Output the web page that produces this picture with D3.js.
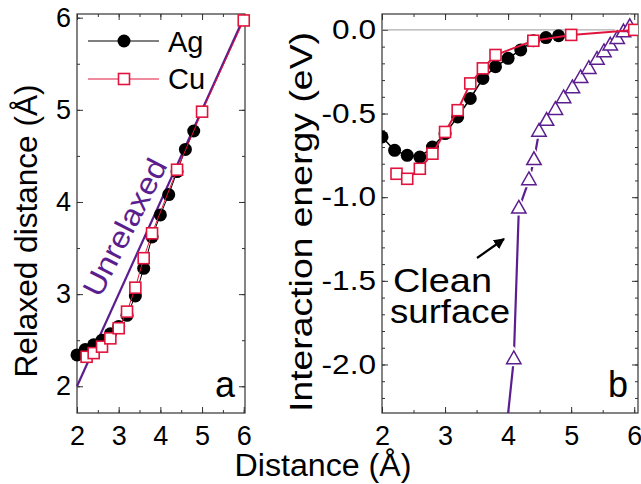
<!DOCTYPE html>
<html>
<head>
<meta charset="utf-8">
<script src="https://cdn.jsdelivr.net/npm/d3@7"></script>
<style>
  body { margin: 0; background: #fff; }
  svg { display: block; font-family: "Liberation Sans", Arial, Helvetica, sans-serif; }
</style>
</head>
<body>
<div id="chart"></div>
<script>
// data
var agDist = [2.0, 2.2, 2.4, 2.6, 2.8, 3.0, 3.2, 3.4, 3.6, 3.8, 4.0, 4.2, 4.4, 4.6, 4.8];
var agRelaxed = [2.34, 2.40, 2.45, 2.50, 2.57, 2.65, 2.77, 2.98, 3.28, 3.62, 3.86, 4.08, 4.33, 4.57, 4.77];
var agEnergy = [-0.64, -0.72, -0.75, -0.76, -0.70, -0.62, -0.52, -0.41, -0.29, -0.22, -0.17, -0.12, -0.065, -0.046, -0.035];

var cuDist = [2.23, 2.4, 2.6, 2.8, 3.0, 3.2, 3.4, 3.6, 3.8, 4.4, 5.0, 6.0];
var cuRelaxed = [2.32, 2.36, 2.43, 2.52, 2.63, 2.81, 3.07, 3.39, 3.66, 4.35, 4.98, 5.97];
var cuEnergy = [-0.86, -0.89, -0.83, -0.74, -0.61, -0.48, -0.32, -0.23, -0.15, -0.065, -0.03, 0.0];

var unrelaxedDist = [2, 6];

var cleanDist = [3.9, 4.09, 4.17, 4.33, 4.41, 4.49, 4.61, 4.75, 4.88, 5.02, 5.15, 5.28, 5.41, 5.52, 5.62, 5.73, 5.83, 5.93];
var cleanEnergy = [-2.65, -1.97, -1.07, -0.90, -0.78, -0.61, -0.545, -0.48, -0.41, -0.35, -0.29, -0.235, -0.18, -0.135, -0.095, -0.056, -0.016, 0.015];

var xTicks = [2, 3, 4, 5, 6];
var leftYTicks = [2, 3, 4, 5, 6];
var rightYTicks = [0, -0.5, -1.0, -1.5, -2.0];

var PURPLE = "#5b1e8e";
var RED = "#e0143c";
var FRAME = "#333";

var W = 641, H = 484;
var svg = d3.select("#chart").append("svg").attr("width", W).attr("height", H);

// panel a
var xA = d3.scaleLinear().domain([2, 6.03]).range([77, 245]);
var yA = d3.scaleLinear().domain([1.71, 6.04]).range([413, 14]);
// panel b
var xB = d3.scaleLinear().domain([2, 6.06]).range([382, 638]);
var yB = d3.scaleLinear().domain([-2.29, 0.095]).range([413, 14]);

function drawFrame(x, y, xMinor, yMinor, yFmt, yTickVals) {
  var x0 = x.range()[0], x1 = x.range()[1], y0 = y.range()[0], y1 = y.range()[1];
  var g = svg.append("g");

  // minor ticks, all four sides
  g.append("g").attr("transform", "translate(0," + y0 + ")")
    .call(d3.axisBottom(x).tickValues(xMinor).tickSize(-3).tickSizeOuter(0).tickFormat(""));
  g.append("g").attr("transform", "translate(0," + y1 + ")")
    .call(d3.axisTop(x).tickValues(xMinor).tickSize(-3).tickSizeOuter(0).tickFormat(""));
  g.append("g").attr("transform", "translate(" + x0 + ",0)")
    .call(d3.axisLeft(y).tickValues(yMinor).tickSize(-3).tickSizeOuter(0).tickFormat(""));
  g.append("g").attr("transform", "translate(" + x1 + ",0)")
    .call(d3.axisRight(y).tickValues(yMinor).tickSize(-3).tickSizeOuter(0).tickFormat(""));

  // major ticks
  var bottom = g.append("g").attr("class", "x-axis").attr("transform", "translate(0," + y0 + ")")
    .call(d3.axisBottom(x).tickValues(xTicks).tickSize(-6).tickSizeOuter(0).tickPadding(10).tickFormat(d3.format("d")));
  g.append("g").attr("transform", "translate(0," + y1 + ")")
    .call(d3.axisTop(x).tickValues(xTicks).tickSize(-6).tickSizeOuter(0).tickFormat(""));
  var left = g.append("g").attr("class", "y-axis").attr("transform", "translate(" + x0 + ",0)")
    .call(d3.axisLeft(y).tickValues(yTickVals).tickSize(-6).tickSizeOuter(0).tickPadding(6).tickFormat(yFmt));
  g.append("g").attr("transform", "translate(" + x1 + ",0)")
    .call(d3.axisRight(y).tickValues(yTickVals).tickSize(-6).tickSizeOuter(0).tickFormat(""));

  g.selectAll(".domain").remove();
  g.selectAll(".tick line").attr("stroke", FRAME).attr("stroke-width", 1);
  g.selectAll(".tick text").attr("fill", "#000").style("font-size", "27px")
    .style("font-family", "'Liberation Sans', Arial, sans-serif");
  bottom.selectAll(".tick text").attr("dy", "0.8em");

  g.append("rect")
    .attr("x", x0).attr("y", y1)
    .attr("width", x1 - x0).attr("height", y0 - y1)
    .attr("fill", "none").attr("stroke", FRAME).attr("stroke-width", 1.2);
  return left;
}

drawFrame(xA, yA, d3.range(2, 6.01, 0.5), d3.range(2, 6.01, 0.5), d3.format("d"), leftYTicks);
var minorB = d3.range(-22, 1).map(function (d) { return d / 10; });
var leftB = drawFrame(xB, yB, d3.range(2, 6.01, 0.5), minorB, function (d) { return d3.format(".1f")(d).replace("−", "-"); }, rightYTicks);
// panel b tick labels are a little wider in the source
leftB.selectAll(".tick text").each(function () {
  var len = this.getComputedTextLength();
  d3.select(this).attr("textLength", len * 1.17).attr("lengthAdjust", "spacingAndGlyphs");
});

// ---------- panel a ----------
var lineA = d3.line().x(function (d) { return xA(d[0]); }).y(function (d) { return yA(d[1]); });

svg.append("path")
  .datum(unrelaxedDist.map(function (d) { return [d, d]; }))
  .attr("d", lineA).attr("fill", "none").attr("stroke", PURPLE).attr("stroke-width", 2.2);

svg.append("path")
  .datum(d3.zip(agDist, agRelaxed))
  .attr("d", lineA).attr("fill", "none").attr("stroke", "#000").attr("stroke-width", 1);

svg.append("g").selectAll("circle")
  .data(d3.zip(agDist, agRelaxed)).enter().append("circle")
  .attr("cx", function (d) { return xA(d[0]); })
  .attr("cy", function (d) { return yA(d[1]); })
  .attr("r", 6.5).attr("fill", "#000");

svg.append("path")
  .datum(d3.zip(cuDist, cuRelaxed))
  .attr("d", lineA).attr("fill", "none").attr("stroke", RED).attr("stroke-width", 1);

svg.append("g").selectAll("rect")
  .data(d3.zip(cuDist, cuRelaxed)).enter().append("rect")
  .attr("x", function (d) { return xA(d[0]) - 5.5; })
  .attr("y", function (d) { return yA(d[1]) - 5.5; })
  .attr("width", 11).attr("height", 11)
  .attr("fill", "#fff").attr("stroke", RED).attr("stroke-width", 1.6);

svg.append("text")
  .attr("transform", "translate(134,232) rotate(-63)")
  .attr("text-anchor", "middle")
  .attr("fill", PURPLE)
  .style("font-size", "30px")
  .attr("textLength", 150).attr("lengthAdjust", "spacingAndGlyphs")
  .text("Unrelaxed");

// legend
svg.append("line").attr("x1", 88).attr("x2", 159).attr("y1", 41).attr("y2", 41).attr("stroke", "#000").attr("stroke-width", 1);
svg.append("circle").attr("cx", 124).attr("cy", 41).attr("r", 6.5).attr("fill", "#000");
svg.append("text").attr("x", 168).attr("y", 52).style("font-size", "29px").text("Ag");
svg.append("line").attr("x1", 88).attr("x2", 159).attr("y1", 79).attr("y2", 79).attr("stroke", RED).attr("stroke-width", 1);
svg.append("rect").attr("x", 118.5).attr("y", 73.5).attr("width", 11).attr("height", 11)
  .attr("fill", "#fff").attr("stroke", RED).attr("stroke-width", 1.6);
svg.append("text").attr("x", 168).attr("y", 89).style("font-size", "29px").text("Cu");

svg.append("text").attr("x", 235).attr("y", 397).attr("text-anchor", "end").style("font-size", "36px").text("a");

// ---------- panel b ----------
svg.append("clipPath").attr("id", "clipB").append("rect")
  .attr("x", 382).attr("y", 14).attr("width", 256).attr("height", 399);
var plotB = svg.append("g").attr("clip-path", "url(#clipB)");
var lineB = d3.line().x(function (d) { return xB(d[0]); }).y(function (d) { return yB(d[1]); });

plotB.append("line")
  .attr("x1", 382).attr("x2", 638).attr("y1", yB(0)).attr("y2", yB(0))
  .attr("stroke", "#999").attr("stroke-width", 1);

// clean surface
var cleanData = d3.zip(cleanDist, cleanEnergy);
plotB.append("path").datum(cleanData)
  .attr("d", lineB).attr("fill", "none").attr("stroke", PURPLE).attr("stroke-width", 2.2);
var tri = "M0,-8.5L7.2,4.2L-7.2,4.2Z";
plotB.append("g").selectAll("path")
  .data(cleanData).enter().append("path")
  .attr("transform", function (d) { return "translate(" + xB(d[0]) + "," + yB(d[1]) + ")"; })
  .attr("d", tri).attr("fill", "#fff").attr("stroke", "#fff").attr("stroke-width", 5);
plotB.append("g").selectAll("path")
  .data(cleanData).enter().append("path")
  .attr("transform", function (d) { return "translate(" + xB(d[0]) + "," + yB(d[1]) + ")"; })
  .attr("d", tri).attr("fill", "#fff").attr("stroke", PURPLE).attr("stroke-width", 1.5);

// Ag
plotB.append("path").datum(d3.zip(agDist, agEnergy))
  .attr("d", lineB).attr("fill", "none").attr("stroke", "#000").attr("stroke-width", 1.5);
plotB.append("g").selectAll("circle")
  .data(d3.zip(agDist, agEnergy)).enter().append("circle")
  .attr("cx", function (d) { return xB(d[0]); })
  .attr("cy", function (d) { return yB(d[1]); })
  .attr("r", 6.5).attr("fill", "#000");

// Cu
plotB.append("path").datum(d3.zip(cuDist, cuEnergy))
  .attr("d", lineB).attr("fill", "none").attr("stroke", RED).attr("stroke-width", 2);
plotB.append("g").selectAll("rect")
  .data(d3.zip(cuDist, cuEnergy)).enter().append("rect")
  .attr("x", function (d) { return xB(d[0]) - 5.5; })
  .attr("y", function (d) { return yB(d[1]) - 5.5; })
  .attr("width", 11).attr("height", 11)
  .attr("fill", "#fff").attr("stroke", RED).attr("stroke-width", 1.6);

// annotation
svg.append("defs").append("marker")
  .attr("id", "arrow").attr("viewBox", "0 0 10 10").attr("refX", 9).attr("refY", 5)
  .attr("markerWidth", 5).attr("markerHeight", 5).attr("orient", "auto")
  .append("path").attr("d", "M0,0L10,5L0,10Z").attr("fill", "#000");
svg.append("line")
  .attr("x1", 477).attr("y1", 258).attr("x2", 504).attr("y2", 239)
  .attr("stroke", "#000").attr("stroke-width", 2.2).attr("marker-end", "url(#arrow)");

svg.append("text").attr("x", 393).attr("y", 292).style("font-size", "34px")
  .attr("textLength", 99).attr("lengthAdjust", "spacingAndGlyphs").text("Clean");
svg.append("text").attr("x", 390).attr("y", 323).style("font-size", "34px")
  .attr("textLength", 120).attr("lengthAdjust", "spacingAndGlyphs").text("surface");

svg.append("text").attr("x", 628).attr("y", 397).attr("text-anchor", "end").style("font-size", "36px").text("b");

// axis titles
svg.append("text")
  .attr("transform", "translate(37,231) rotate(-90)")
  .attr("text-anchor", "middle").style("font-size", "31px")
  .attr("textLength", 293).attr("lengthAdjust", "spacingAndGlyphs")
  .text("Relaxed distance (Å)");

svg.append("text")
  .attr("transform", "translate(312,222) rotate(-90)")
  .attr("text-anchor", "middle").style("font-size", "31px")
  .attr("textLength", 380).attr("lengthAdjust", "spacingAndGlyphs")
  .text("Interaction energy (eV)");

svg.append("text")
  .attr("x", 323).attr("y", 476)
  .attr("text-anchor", "middle").style("font-size", "31px")
  .attr("textLength", 177).attr("lengthAdjust", "spacingAndGlyphs")
  .text("Distance (Å)");
</script>
</body>
</html>
